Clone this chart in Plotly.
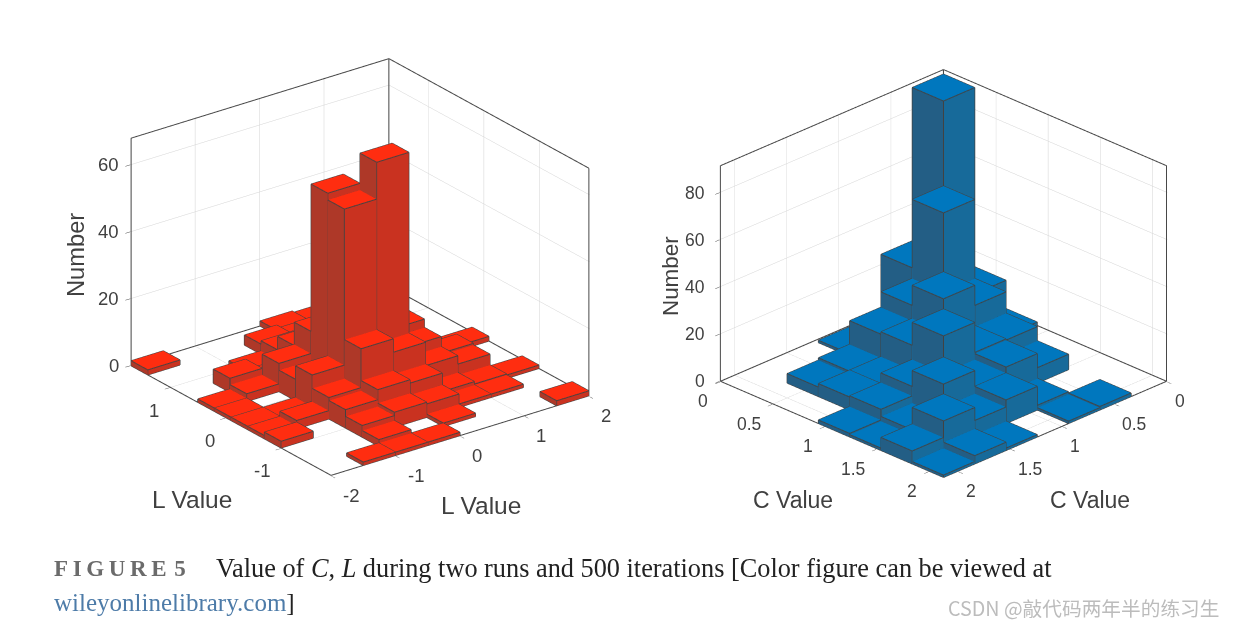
import plotly.graph_objects as go

# ---- left chart data (L, L): rows = y bins from low to high, columns = x bins from low to high
L_X_EDGES_START = -2.0
L_X_BIN = 0.5
L_Y_EDGES_START = -1.9
L_Y_BIN = 0.3
L_COUNTS = [
    [0, 1, 1, 1, 0, 0, 0, 1.5],
    [0, 0, 2, 0, 1, 0, 0, 0],
    [0, 0, 3.5, 4.5, 4, 1, 1, 0],
    [2, 0, 5.5, 8.5, 7.5, 2, 1.3, 1],
    [1, 2.5, 6.4, 18, 14, 7, 4.5, 0],
    [1, 1, 10.4, 57, 68, 10, 5, 0],
    [1, 0, 6.4, 59, 5, 12.5, 0, 1.4],
    [1, 2.3, 8.4, 15, 3, 3, 0, 0],
    [0, 4.2, 1, 8, 3, 0, 0, 0],
    [0, 0, 1, 4, 2, 0, 0, 0],
    [0, 0, 0, 3, 2, 0, 0, 0],
    [1.5, 0, 0, 0, 1.5, 1, 0, 0],
]
# ---- right chart data (C, C): rows = y bins from high to low, columns = x bins from high to low
C_EDGE_TOP = 2.14
C_BIN = 0.3
C_COUNTS = [
    [1, 3.5, 1, 0, 1, 1.5, 0],
    [5.5, 12.5, 7, 10, 2, 0, 0],
    [1, 3, 16.7, 10, 12.5, 6.5, 0],
    [1.5, 6, 10, 25.7, 13, 12.5, 0],
    [0, 5.5, 5.5, 16, 30, 21.5, 3],
    [0, 4, 5, 15, 21.5, 55, 15],
    [0, 0, 0, 1, 0, 26, 91],
]
L_X_TICKS = [-2, -1, 0, 1, 2]
L_Y_TICKS = [-1, 0, 1]
L_Z_TICKS = [0, 20, 40, 60]
C_TICKS = [0, 0.5, 1, 1.5, 2]
C_TICK_TEXT = ["0", "0.5", "1", "1.5", "2"]
C_Z_TICKS = [0, 20, 40, 60, 80]


def bars(x0s, x1s, y0s, y1s, zs, top, side_x, side_y, xface, yface):
    vx, vy, vz, i, j, k, fc = [], [], [], [], [], [], []
    lx, ly, lz = [], [], []
    for a0, a1, b0, b1, h in zip(x0s, x1s, y0s, y1s, zs):
        n = len(vx)
        for zz in (0, h):
            for xx, yy in ((a0, b0), (a1, b0), (a1, b1), (a0, b1)):
                vx.append(xx); vy.append(yy); vz.append(zz)
        quads = [((4, 5, 6, 7), top)]
        quads.append(((0, 3, 7, 4) if xface < 0 else (1, 2, 6, 5), side_x))
        quads.append(((0, 1, 5, 4) if yface < 0 else (3, 2, 6, 7), side_y))
        for q, c in quads:
            for tri in ((q[0], q[1], q[2]), (q[0], q[2], q[3])):
                i.append(n + tri[0]); j.append(n + tri[1]); k.append(n + tri[2]); fc.append(c)
        for e in ((4, 5), (5, 6), (6, 7), (7, 4), (0, 1), (1, 2), (2, 3), (3, 0), (0, 4), (1, 5), (2, 6), (3, 7)):
            lx += [vx[n + e[0]], vx[n + e[1]], None]
            ly += [vy[n + e[0]], vy[n + e[1]], None]
            lz += [vz[n + e[0]], vz[n + e[1]], None]
    return vx, vy, vz, i, j, k, fc, lx, ly, lz


def add_chart(fig, scene, x0s, x1s, y0s, y1s, zs, colors, xface, yface, xr, yr, zr, back):
    vx, vy, vz, i, j, k, fc, lx, ly, lz = bars(x0s, x1s, y0s, y1s, zs, *colors, xface, yface)
    fig.add_trace(go.Mesh3d(x=vx, y=vy, z=vz, i=i, j=j, k=k, facecolor=fc, flatshading=True,
                            lighting=dict(ambient=1, diffuse=0, specular=0, roughness=1, fresnel=0),
                            hoverinfo="skip", scene=scene, showscale=False))
    fig.add_trace(go.Scatter3d(x=lx, y=ly, z=lz, mode="lines", line=dict(color="#424242", width=2),
                               hoverinfo="skip", scene=scene, showlegend=False))
    bx, by = back
    fx, fy = xr[0] + xr[1] - bx, yr[0] + yr[1] - by
    ex, ey, ez = [], [], []
    def seg(a, b):
        ex.extend([a[0], b[0], None]); ey.extend([a[1], b[1], None]); ez.extend([a[2], b[2], None])
    z0, z1 = zr
    seg((fx, fy, z0), (bx, fy, z0)); seg((fx, fy, z0), (fx, by, z0))
    seg((bx, by, z0), (bx, fy, z0)); seg((bx, by, z0), (fx, by, z0))
    seg((bx, by, z0), (bx, by, z1)); seg((bx, fy, z0), (bx, fy, z1)); seg((fx, by, z0), (fx, by, z1))
    seg((bx, by, z1), (bx, fy, z1)); seg((bx, by, z1), (fx, by, z1))
    fig.add_trace(go.Scatter3d(x=ex, y=ey, z=ez, mode="lines", line=dict(color="#484848", width=2),
                               hoverinfo="skip", scene=scene, showlegend=False))


fig = go.Figure()

x0s, x1s, y0s, y1s, zs = [], [], [], [], []
for r, row in enumerate(L_COUNTS):
    for c, v in enumerate(row):
        if v > 0:
            x0s.append(L_X_EDGES_START + c * L_X_BIN); x1s.append(L_X_EDGES_START + (c + 1) * L_X_BIN)
            y0s.append(L_Y_EDGES_START + r * L_Y_BIN); y1s.append(L_Y_EDGES_START + (r + 1) * L_Y_BIN)
            zs.append(v)
L_XR = [-2, 2]; L_YR = [-1.9, 1.7]; L_ZR = [0, 68]
add_chart(fig, "scene", x0s, x1s, y0s, y1s, zs, ("#FF2D10", "#AE3828", "#C93220"), -1, -1,
          L_XR, L_YR, L_ZR, (2, 1.7))

x0s, x1s, y0s, y1s, zs = [], [], [], [], []
for u, row in enumerate(C_COUNTS):
    for v, h in enumerate(row):
        if h > 0:
            x0s.append(C_EDGE_TOP - (v + 1) * C_BIN); x1s.append(C_EDGE_TOP - v * C_BIN)
            y0s.append(C_EDGE_TOP - (u + 1) * C_BIN); y1s.append(C_EDGE_TOP - u * C_BIN)
            zs.append(h)
C_XR = [0, 2.14]; C_YR = [0, 2.14]; C_ZR = [0, 91.4]
add_chart(fig, "scene2", x0s, x1s, y0s, y1s, zs, ("#0077BE", "#235E85", "#176A9A"), 1, 1,
          C_XR, C_YR, C_ZR, (0, 0))


def axis(rng, ticks):
    pad = (rng[1] - rng[0]) * 0.002  # keeps lines lying on the box from being clipped
    return dict(range=[rng[0] - pad, rng[1] + pad], tickvals=ticks, showticklabels=False, title=dict(text=""),
                showgrid=True, gridcolor="#D4D4D4", gridwidth=1, showbackground=False, zeroline=False,
                showline=False, ticks="outside", ticklen=6, tickcolor="#484848", showspikes=False)


def tick_notes(pts, texts, size, xshift, yshift, anchor):
    return [dict(x=p[0], y=p[1], z=p[2], text=t, showarrow=False, xshift=xshift, yshift=yshift, xanchor=anchor,
                 yanchor="middle", font=dict(family="Liberation Sans", size=size, color="#404040"))
            for p, t in zip(pts, texts)]


left_notes = (
    tick_notes([(t, L_YR[0], 0) for t in L_X_TICKS], [str(t) for t in L_X_TICKS], 18.5, 10, -20, "left")
    + tick_notes([(L_XR[0], t, 0) for t in L_Y_TICKS], [str(t) for t in L_Y_TICKS], 18.5, -9, -23, "right")
    + tick_notes([(L_XR[0], L_YR[1], t) for t in L_Z_TICKS], [str(t) for t in L_Z_TICKS], 18.5, -10, 0, "right")
)
right_notes = (
    tick_notes([(t, C_YR[1], 0) for t in C_TICKS], C_TICK_TEXT, 17.5, 6, -20, "left")
    + tick_notes([(C_XR[1], t, 0) for t in C_TICKS], C_TICK_TEXT, 17.5, -10, -20, "right")
    + tick_notes([(C_XR[1], C_YR[0], t) for t in C_Z_TICKS], [str(t) for t in C_Z_TICKS], 17.5, -13, 0, "right")
)

W, H = 1235, 626
fig.update_layout(
    width=W, height=H, margin=dict(l=0, r=0, t=0, b=0), paper_bgcolor="white", showlegend=False,
    scene=dict(
        domain=dict(x=[60 / W, 660 / W], y=[1 - 534 / H, 1]),
        xaxis=axis(L_XR, L_X_TICKS), yaxis=axis(L_YR, L_Y_TICKS), zaxis=axis(L_ZR, L_Z_TICKS),
        aspectmode="manual", aspectratio=dict(x=1.212, y=1.253, z=0.939),
        camera=dict(projection=dict(type="orthographic"), up=dict(x=0, y=0, z=1),
                    eye=dict(x=-0.547 * 2, y=-0.729 * 2, z=0.411 * 2)),
        annotations=left_notes,
    ),
    scene2=dict(
        domain=dict(x=[660 / W, 1227 / W], y=[1 - 547 / H, 1]),
        xaxis=axis(C_XR, C_TICKS), yaxis=axis(C_YR, C_TICKS), zaxis=axis(C_ZR, C_Z_TICKS),
        aspectmode="manual", aspectratio=dict(x=1.158, y=1.158, z=0.877),
        camera=dict(projection=dict(type="orthographic"), up=dict(x=0, y=0, z=1),
                    eye=dict(x=0.638 * 2, y=0.638 * 2, z=0.431 * 2)),
        annotations=right_notes,
    ),
)


def note(text, x, y, size, color="#404040", family="Liberation Sans", angle=0, anchor="center"):
    fig.add_annotation(text=text, x=x / W, y=1 - y / H, xref="paper", yref="paper", showarrow=False,
                       font=dict(family=family, size=size, color=color), textangle=angle, xanchor=anchor,
                       yanchor="middle")


note("L Value", 192, 499, 24.5)
note("L Value", 481, 505, 24.5)
note("Number", 76, 255, 23.7, angle=-90)
note("C Value", 793, 500, 23)
note("C Value", 1090, 500, 23)
note("Number", 671, 276, 22.4, angle=-90)
note("<b>F\u2009I\u2009G\u2009U\u2009R\u2009E\u2005\u200a5</b>", 52, 568, 23, color="#6b6b6b", family="Liberation Serif", anchor="left")
note("Value of <i>C</i>, <i>L</i> during two runs and 500 iterations [Color figure can be viewed at", 214, 568, 26.3,
     color="#222222", family="Liberation Serif", anchor="left")
note('<span style="color:#4d7ba8">wileyonlinelibrary.com</span>]', 52, 602, 25, color="#222222",
     family="Liberation Serif", anchor="left")
note("CSDN @敲代码两年半的练习生", 946, 607, 19.7, color="#bcbcbc", family="Noto Sans CJK SC", anchor="left")

fig.write_html("out.html", config={"displayModeBar": False},
               post_script="document.body.style.margin='0';document.body.style.overflow='hidden';")
